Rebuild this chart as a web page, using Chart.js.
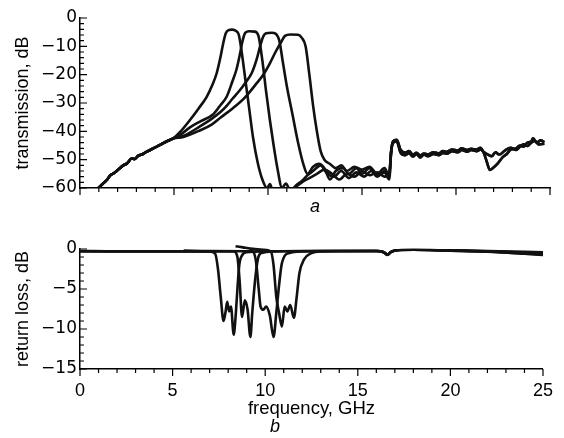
<!DOCTYPE html>
<html>
<head>
<meta charset="utf-8">
<script src="https://cdn.jsdelivr.net/npm/chart.js@4/dist/chart.umd.min.js"></script>
<style>
  html, body { margin: 0; padding: 0; background: #fff; }
  #wrap { position: relative; width: 564px; height: 438px; }
  .panel { position: absolute; left: 0; width: 564px; }
  #top { top: 0; height: 220px; }
  #bot { top: 220px; height: 218px; }
</style>
</head>
<body>
<div id="wrap">
  <div class="panel" id="top"><canvas id="transChart"></canvas></div>
  <div class="panel" id="bot"><canvas id="returnChart"></canvas></div>
</div>
<script>
// frequency (GHz), dB pairs
// shared low-frequency slope of all four filters (transmission)
const lowSlope = [[0.98,-60],[1.2,-58.6],[1.45,-57],[1.6,-55.6],[1.8,-54.8],[2.05,-53.4],[2.3,-52],[2.5,-51.3],[2.75,-49.6],[2.9,-49.8],[3.1,-48.6],[3.35,-48],[3.55,-47.2],[3.9,-46],[4.26,-44.8],[4.6,-43.6],[4.96,-42.5]];

const trans1 = [[5.3,-40.4],[5.85,-36],[6.3,-32],[6.74,-27.8],[7.05,-23.5],[7.27,-19.5],[7.45,-14.5],[7.6,-9.5],[7.75,-5.5],[7.9,-4.3],[8.1,-4.1],[8.3,-4.6],[8.45,-6],[8.6,-12],[8.8,-22],[9.0,-32],[9.2,-42],[9.45,-51],[9.7,-57],[9.95,-60],[10.1,-58.6],[10.25,-61],[10.5,-62],[10.7,-60.5],[11.0,-62],[11.4,-60],[11.8,-58],[12.2,-56.5],[12.6,-55],[13.0,-53.5],[13.4,-55],[13.8,-57],[14.2,-55],[14.6,-56],[15.0,-54],[15.4,-55.5],[15.8,-54.5],[16.2,-56],[16.45,-55]];

const trans2 = [[5.3,-41.4],[5.85,-38.6],[6.4,-36.5],[7.09,-34],[7.5,-30.5],[7.8,-27.8],[8.1,-22.5],[8.33,-18],[8.5,-13],[8.65,-8],[8.8,-5.2],[9.0,-4.7],[9.3,-4.8],[9.5,-6.5],[9.7,-15],[9.9,-26],[10.1,-36],[10.3,-45],[10.5,-53],[10.75,-60],[10.95,-58.4],[11.2,-61],[11.5,-59],[11.8,-57.5],[12.1,-55.5],[12.4,-54],[12.8,-52],[13.1,-54.5],[13.5,-56],[13.9,-54],[14.3,-56.5],[14.7,-54.5],[15.1,-56],[15.5,-54],[15.9,-55.5],[16.2,-54.5],[16.45,-57]];

const trans3 = [[5.5,-41.6],[6.4,-38.2],[7.0,-35.6],[7.5,-33],[7.8,-31],[8.1,-28.6],[8.5,-25.5],[8.78,-23],[9.13,-19.5],[9.4,-14.5],[9.6,-9.5],[9.75,-6.5],[9.9,-5.4],[10.2,-5.2],[10.4,-5.5],[10.6,-8],[10.8,-16],[11.0,-24],[11.3,-34],[11.6,-44],[11.9,-52],[12.1,-55],[12.4,-52.5],[12.7,-51.5],[13.0,-53],[13.3,-57],[13.6,-54],[14.0,-53],[14.3,-55],[14.7,-53],[15.0,-55],[15.4,-53],[15.8,-56],[16.2,-54],[16.45,-55]];

const trans4 = [[5.5,-42],[6.4,-39.6],[7.0,-37.6],[7.5,-35],[8.1,-32],[8.78,-28],[9.4,-23],[9.75,-20],[10.1,-16],[10.4,-12],[10.7,-8.5],[10.9,-6.3],[11.2,-5.8],[11.6,-5.9],[11.8,-7],[12.0,-10],[12.2,-20],[12.4,-31],[12.6,-40],[12.8,-47],[13.0,-50],[13.3,-51.5],[13.6,-53],[13.9,-52],[14.2,-54],[14.6,-52.5],[15.0,-53.5],[15.4,-52.5],[15.8,-55],[16.2,-53],[16.45,-56]];

// above ~16.5 GHz the curves almost coincide; two variants of the dip near 21.8 GHz
const highDeep = [[16.55,-47],[16.65,-43.5],[16.85,-43],[17.05,-46.5],[17.3,-47.5],[17.5,-47],[17.7,-48.2],[17.9,-47.6],[18.1,-48.5],[18.3,-47.8],[18.5,-48.2],[18.8,-47.4],[19.1,-47.8],[19.3,-47],[19.5,-47.2],[19.8,-46.4],[20.1,-46.8],[20.3,-46],[20.6,-46.6],[20.8,-46.2],[21.1,-46.4],[21.3,-45.8],[21.5,-48],[21.65,-51],[21.8,-53.6],[21.95,-53],[22.2,-51.5],[22.5,-49],[22.7,-48],[22.9,-46.5],[23.2,-46],[23.4,-45],[23.6,-45.4],[23.8,-44],[24.0,-43.6],[24.1,-42.5],[24.3,-44],[24.5,-43.2],[24.7,-43.8]];
const highShallow = [[16.55,-47.5],[16.65,-44],[16.85,-43.6],[17.05,-47.5],[17.3,-48.4],[17.5,-47.6],[17.7,-48.9],[17.9,-48],[18.1,-49.2],[18.3,-48.2],[18.5,-48.8],[18.8,-48],[19.1,-48.4],[19.3,-47.6],[19.5,-47.9],[19.8,-47],[20.1,-47.4],[20.3,-46.6],[20.6,-47.2],[20.8,-46.6],[21.1,-47],[21.3,-46.4],[21.5,-47.4],[21.7,-48.2],[21.9,-48.8],[22.1,-47.4],[22.3,-48.2],[22.6,-46.8],[22.9,-45.8],[23.2,-46.6],[23.4,-45.4],[23.6,-44.6],[23.8,-45.2],[24.0,-44],[24.2,-43.4],[24.4,-44.6],[24.7,-44.4]];

// return loss
const rl1 = [[0,-0.25],[2,-0.3],[5,-0.3],[7,-0.3],[7.3,-0.6],[7.45,-2.5],[7.6,-6],[7.75,-9],[7.85,-8],[7.95,-6.6],[8.05,-7.8],[8.15,-7.2],[8.3,-10.7],[8.4,-8.5],[8.5,-5],[8.6,-2],[8.75,-0.8],[9.0,-0.4],[10,-0.3],[13,-0.25],[16,-0.25],[16.4,-0.4],[16.6,-0.75],[16.8,-0.35],[17.2,-0.1],[18,-0.05],[20,-0.15],[22,-0.25],[24,-0.35],[25,-0.4]];
const rl2 = [[0,-0.3],[3,-0.3],[6,-0.3],[8.3,-0.3],[8.5,-1],[8.62,-4],[8.75,-8.5],[8.9,-6.4],[9.05,-7.6],[9.2,-11],[9.3,-8],[9.45,-4],[9.6,-1.3],[9.8,-0.5],[10.5,-0.3],[13,-0.25],[16,-0.25],[16.4,-0.4],[16.6,-0.7],[16.8,-0.35],[17.2,-0.1],[18,-0.1],[20,-0.2],[22,-0.3],[24,-0.45],[25,-0.55]];
const rl3 = [[5.6,-0.2],[7,-0.25],[9.3,-0.3],[9.5,-1.5],[9.65,-5],[9.75,-7.2],[9.9,-7.6],[10.05,-7.2],[10.25,-8.3],[10.45,-11],[10.6,-8],[10.75,-4.5],[10.9,-1.8],[11.3,-0.5],[12,-0.3],[14,-0.25],[16,-0.25],[16.4,-0.4],[16.6,-0.7],[16.8,-0.35],[17.2,-0.15],[18,-0.1],[20,-0.2],[22,-0.35],[24,-0.55],[25,-0.65]];
const rl4 = [[8.4,0.35],[8.8,0.2],[9.2,0.05],[9.9,-0.1],[10.3,-0.3],[10.45,-2],[10.6,-6],[10.75,-8],[10.9,-9.7],[11.05,-7.2],[11.2,-7.8],[11.35,-7],[11.55,-8.6],[11.7,-6],[11.85,-3],[12.1,-1.3],[12.5,-0.5],[13,-0.3],[16,-0.25],[16.4,-0.4],[16.6,-0.7],[16.8,-0.35],[17.2,-0.15],[18,-0.1],[20,-0.2],[22,-0.3],[24,-0.6],[25,-0.75]];

const toXY = (arr) => arr.map(([x, y]) => ({ x, y }));
const minus = (v) => (v < 0 ? "\u2212" + Math.abs(v) : String(v));

const fontFamily = "'Liberation Sans', Arial, Helvetica, sans-serif";
// DejaVu has the long minus sign of the printed figure
const yTickFamily = "'DejaVu Sans', sans-serif";

// small ticks every step, long ticks on labelled values
const tickMarks = {
  id: "tickMarks",
  afterDraw(chart, args, opts) {
    const { ctx, chartArea } = chart;
    const xs = chart.scales.x;
    const ys = chart.scales.y;
    ctx.save();
    ctx.strokeStyle = "#000";
    ctx.lineWidth = 1.2;
    ctx.beginPath();
    xs.ticks.forEach((t) => {
      const px = xs.getPixelForValue(t.value);
      const len = t.value % 5 === 0 ? 7 : 4;
      ctx.moveTo(px, chartArea.bottom);
      ctx.lineTo(px, chartArea.bottom + len);
    });
    ys.ticks.forEach((t) => {
      const py = ys.getPixelForValue(t.value);
      const len = t.value % opts.major === 0 ? 7 : 4;
      ctx.moveTo(chartArea.left, py);
      ctx.lineTo(chartArea.left + len, py);
    });
    ctx.stroke();
    ctx.restore();
  }
};

function lineSet(data, extra) {
  return Object.assign({
    data: toXY(data),
    borderColor: "#111",
    borderWidth: 2.6,
    pointRadius: 0,
    fill: false,
    cubicInterpolationMode: "monotone"
  }, extra || {});
}

function axisX(showLabels, title, xHeight) {
  return {
    type: "linear",
    min: 0,
    max: 25,
    ticks: {
      stepSize: 1,
      autoSkip: false,
      maxRotation: 0,
      padding: 11,
      color: "#000",
      font: { family: fontFamily, size: 18 },
      callback: (v) => (showLabels && v % 5 === 0 ? String(v) : "")
    },
    grid: { display: false, drawTicks: false },
    border: { display: true, color: "#000", width: 1.5 },
    title: title,
    afterFit: (s) => { s.height = xHeight; }
  };
}

function axisY(min, step, major, label) {
  return {
    min: min,
    max: 0,
    ticks: {
      stepSize: step,
      autoSkip: false,
      padding: 3,
      color: "#000",
      font: { family: yTickFamily, size: 17 },
      callback: (v) => (v % major === 0 ? minus(v) : "")
    },
    grid: { display: false, drawTicks: false },
    border: { display: true, color: "#000", width: 1.5 },
    title: {
      display: true,
      text: label,
      color: "#000",
      font: { family: fontFamily, size: 18 },
      padding: { top: 12, bottom: 0 }
    },
    afterFit: (s) => { s.width = 80; }
  };
}

new Chart(document.getElementById("transChart"), {
  type: "line",
  data: {
    datasets: [
      lineSet(lowSlope.concat(trans1, highDeep)),
      lineSet(lowSlope.concat(trans2, highShallow)),
      lineSet(lowSlope.concat(trans3, highDeep)),
      lineSet(lowSlope.concat(trans4, highShallow))
    ]
  },
  options: {
    responsive: true,
    maintainAspectRatio: false,
    animation: false,
    layout: { padding: { top: 18, right: 14, left: 0, bottom: 0 } },
    plugins: { legend: { display: false }, tooltip: { enabled: false }, tickMarks: { major: 10 } },
    scales: {
      x: axisX(false, {
        display: true,
        text: "a",
        color: "#000",
        font: { family: fontFamily, size: 18, style: "italic" },
        padding: { top: 0, bottom: 2 }
      }, 32),
      y: axisY(-60, 2, 10, "transmission, dB")
    }
  },
  plugins: [tickMarks]
});

new Chart(document.getElementById("returnChart"), {
  type: "line",
  data: {
    datasets: [
      lineSet(rl1),
      lineSet(rl2),
      lineSet(rl3),
      lineSet(rl4, { clip: { left: 0, top: 8, right: 0, bottom: 0 } })
    ]
  },
  options: {
    responsive: true,
    maintainAspectRatio: false,
    animation: false,
    layout: { padding: { top: 29, right: 14, left: 0, bottom: 0 } },
    plugins: {
      legend: { display: false },
      tooltip: { enabled: false },
      tickMarks: { major: 5 },
      title: {
        display: true,
        position: "bottom",
        text: "b",
        color: "#000",
        font: { family: fontFamily, size: 18, style: "italic", weight: "normal" },
        padding: { top: 7, bottom: 0 }
      }
    },
    scales: {
      x: axisX(true, {
        display: true,
        text: "frequency, GHz",
        color: "#000",
        font: { family: fontFamily, size: 18.5 },
        padding: { top: 0, bottom: -11 }
      }, 40.4),
      y: axisY(-15, 1, 5, "return loss, dB")
    }
  },
  plugins: [tickMarks]
});
</script>
</body>
</html>
